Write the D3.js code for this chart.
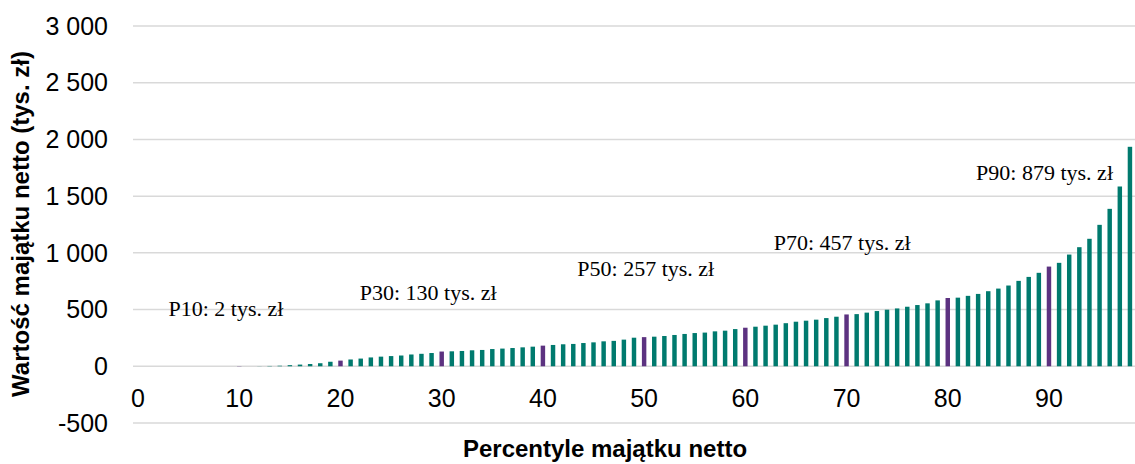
<!DOCTYPE html>
<html>
<head>
<meta charset="utf-8">
<script src="https://cdn.jsdelivr.net/npm/d3@7"></script>
<style>
  html, body { margin: 0; padding: 0; background: #fff; }
  svg { display: block; }
</style>
</head>
<body>
<div id="chart"></div>
<script>
// Percentiles of net wealth (tys. zł), P0..P98
const percentiles = d3.range(0, 99);
const wealth = [
  0, 0, 0, 0, 0, 0, 0, 0, 0, 0,
  2, 0, 1, 3, 5, 10, 15, 20, 27, 40,
  50, 60, 68, 78, 85, 90, 95, 104, 110, 117,
  130, 132, 135, 141, 144, 152, 156, 161, 167, 173,
  182, 188, 194, 197, 205, 211, 220, 224, 235, 252,
  257, 261, 267, 276, 285, 293, 297, 308, 314, 328,
  340, 349, 358, 367, 380, 393, 402, 411, 425, 437,
  457, 460, 473, 487, 499, 510, 525, 540, 555, 581,
  602, 605, 621, 638, 662, 685, 712, 753, 788, 824,
  879, 912, 985, 1050, 1124, 1247, 1388, 1585, 1935
];
const highlighted = [10, 20, 30, 40, 50, 60, 70, 80, 90];
const xTicks = [0, 10, 20, 30, 40, 50, 60, 70, 80, 90];
const yTicks = [-500, 0, 500, 1000, 1500, 2000, 2500, 3000];

// annotation labels, placed in data units (category, value)
const noteText = ["P10: 2 tys. zł", "P30: 130 tys. zł", "P50: 257 tys. zł", "P70: 457 tys. zł", "P90: 879 tys. zł"];
const noteCat = [3, 21.9, 43.4, 62.8, 82.8];
const noteVal = [440, 581, 792, 1021, 1646];

const width = 1135, height = 464;
const margin = { top: 26, right: 0, bottom: 41, left: 133 };

const plLocale = d3.formatLocale({ decimal: ",", thousands: " ", grouping: [3], currency: ["", ""], minus: "-" });
const fmt = plLocale.format(",d");

const svg = d3.select("#chart").append("svg")
  .attr("width", width)
  .attr("height", height);

const x = d3.scaleBand()
  .domain(percentiles)
  .range([margin.left, width - margin.right])
  .paddingInner(0.56)
  .paddingOuter(0.28);

const y = d3.scaleLinear()
  .domain([-500, 3000])
  .range([height - margin.bottom, margin.top]);

const xc = c => x(0) + x.bandwidth() / 2 + c * x.step();

// gridlines
svg.append("g")
  .selectAll("line")
  .data(yTicks)
  .join("line")
  .attr("x1", margin.left)
  .attr("x2", width - margin.right)
  .attr("y1", d => y(d))
  .attr("y2", d => y(d))
  .attr("stroke", "#d9d9d9")
  .attr("stroke-width", 1.5);

// y tick labels
svg.append("g")
  .selectAll("text")
  .data(yTicks)
  .join("text")
  .attr("x", 108)
  .attr("y", d => y(d))
  .attr("dy", "0.35em")
  .attr("text-anchor", "end")
  .style("font", "25px 'Liberation Sans', Arial, sans-serif")
  .attr("fill", "#000")
  .text(d => fmt(d));

// bars
svg.append("g")
  .selectAll("rect")
  .data(percentiles)
  .join("rect")
  .attr("x", d => x(d))
  .attr("width", x.bandwidth())
  .attr("y", d => y(Math.max(0, wealth[d])))
  .attr("height", d => Math.abs(y(wealth[d]) - y(0)))
  .attr("fill", d => highlighted.includes(d) ? "#5c3280" : "#007a6e");

// x tick labels
svg.append("g")
  .selectAll("text")
  .data(xTicks)
  .join("text")
  .attr("x", d => xc(d))
  .attr("y", 407)
  .attr("text-anchor", "middle")
  .style("font", "25px 'Liberation Sans', Arial, sans-serif")
  .attr("fill", "#000")
  .text(d => d);

// annotations
svg.append("g")
  .selectAll("text")
  .data(noteText)
  .join("text")
  .attr("x", (d, i) => xc(noteCat[i]))
  .attr("y", (d, i) => y(noteVal[i]))
  .style("font", "22px 'Liberation Serif', 'Times New Roman', serif")
  .attr("fill", "#000")
  .text(d => d);

// axis titles
svg.append("text")
  .attr("transform", "translate(29,224) rotate(-90)")
  .attr("text-anchor", "middle")
  .style("font", "bold 24px 'Liberation Sans', Arial, sans-serif")
  .text("Wartość majątku netto (tys. zł)");

svg.append("text")
  .attr("x", 605)
  .attr("y", 457)
  .attr("text-anchor", "middle")
  .style("font", "bold 24px 'Liberation Sans', Arial, sans-serif")
  .text("Percentyle majątku netto");
</script>
</body>
</html>
